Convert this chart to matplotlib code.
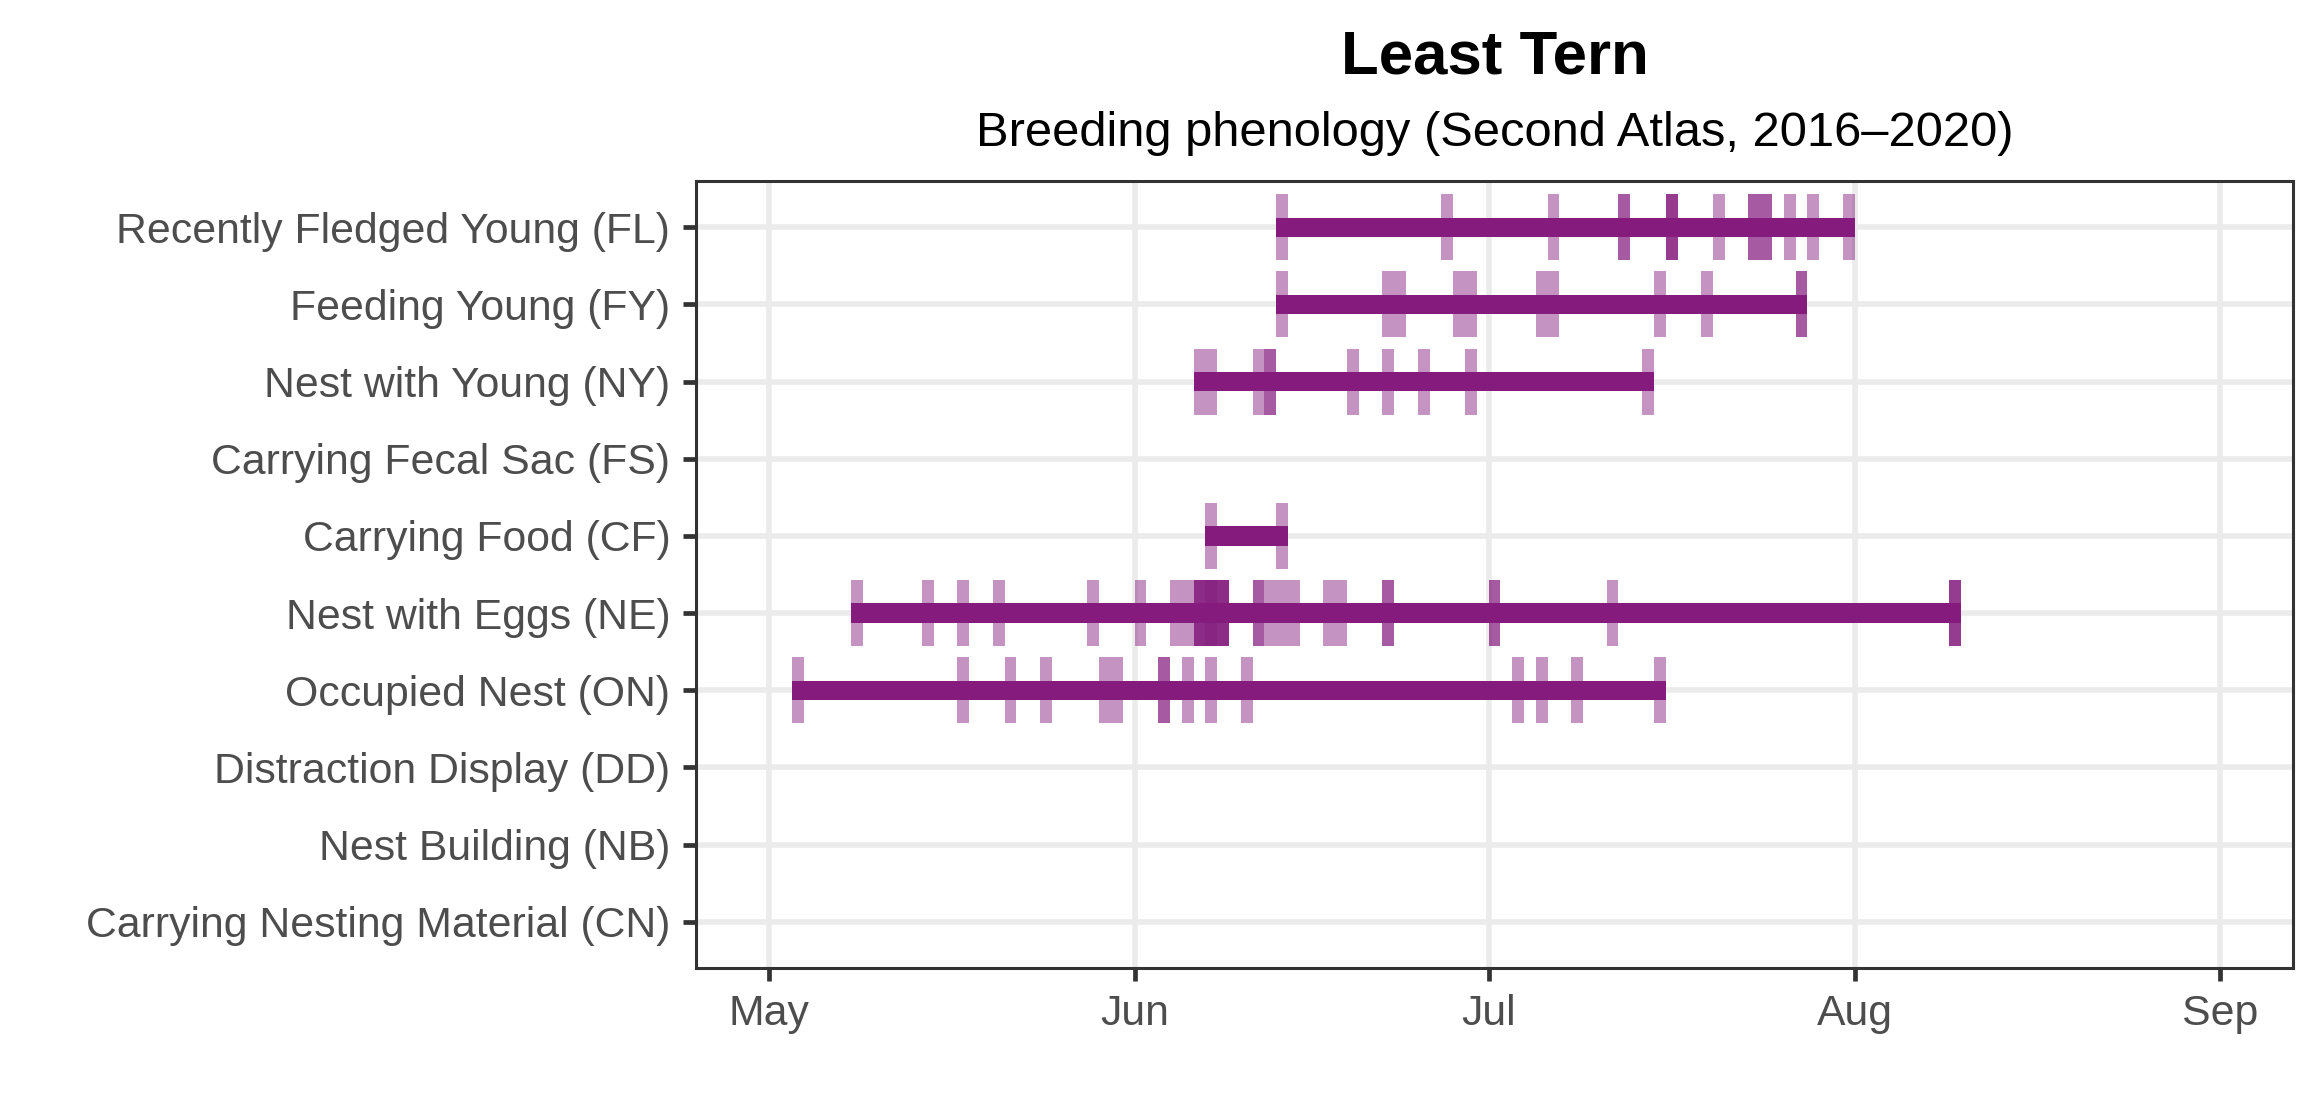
import datetime as dt
import matplotlib
matplotlib.use("Agg")
import matplotlib.pyplot as plt
import matplotlib.dates as mdates

plt.rcParams['font.family'] = ['Liberation Sans', 'DejaVu Sans']

YEAR = 2020

# Behaviour categories, bottom to top
categories = [
    "Carrying Nesting Material (CN)",
    "Nest Building (NB)",
    "Distraction Display (DD)",
    "Occupied Nest (ON)",
    "Nest with Eggs (NE)",
    "Carrying Food (CF)",
    "Carrying Fecal Sac (FS)",
    "Nest with Young (NY)",
    "Feeding Young (FY)",
    "Recently Fledged Young (FL)",
]

# Observation dates (month, day); repeated entries = multiple observations
obs_CN = []
obs_NB = []
obs_DD = []
obs_ON = [(5, 3), (5, 17), (5, 21), (5, 24), (5, 29), (5, 30), (6, 3), (6, 3),
          (6, 5), (6, 7), (6, 10), (7, 3), (7, 5), (7, 8), (7, 15)]
obs_NE = [(5, 8), (5, 14), (5, 17), (5, 20), (5, 28), (6, 1), (6, 4), (6, 5),
          (6, 6), (6, 6), (6, 6), (6, 6),
          (6, 7), (6, 7), (6, 7), (6, 7), (6, 7),
          (6, 8), (6, 8), (6, 8), (6, 8),
          (6, 11), (6, 11), (6, 12), (6, 13), (6, 14), (6, 17), (6, 18),
          (6, 22), (6, 22), (7, 1), (7, 1), (7, 11), (8, 9), (8, 9), (8, 9)]
obs_CF = [(6, 7), (6, 13)]
obs_FS = []
obs_NY = [(6, 6), (6, 7), (6, 11), (6, 12), (6, 12), (6, 19), (6, 22), (6, 25),
          (6, 29), (7, 14)]
obs_FY = [(6, 13), (6, 22), (6, 23), (6, 28), (6, 29), (7, 5), (7, 6), (7, 15),
          (7, 19), (7, 27), (7, 27)]
obs_FL = [(6, 13), (6, 27), (7, 6), (7, 12), (7, 12), (7, 16), (7, 16), (7, 16),
          (7, 20), (7, 23), (7, 23), (7, 24), (7, 24), (7, 26), (7, 28), (7, 31)]

observations = [obs_CN, obs_NB, obs_DD, obs_ON, obs_NE, obs_CF, obs_FS,
                obs_NY, obs_FY, obs_FL]

month_ticks = [(5, 1), (6, 1), (7, 1), (8, 1), (9, 1)]
month_labels = ["May", "Jun", "Jul", "Aug", "Sep"]

title = "Least Tern"
subtitle = "Breeding phenology (Second Atlas, 2016\u20132020)"

COLOR = "#841B7D"


def dnum(md):
    return mdates.date2num(dt.datetime(YEAR, md[0], md[1]))


fig = plt.figure(figsize=(23.2, 11.2), dpi=100)
ax = fig.add_axes([0.300, 0.1357, 0.9884 - 0.300, 0.8384 - 0.1357])

for i, obs in enumerate(observations):
    row = i + 1
    if not obs:
        continue
    xs = [dnum(o) for o in obs]
    ax.bar(xs, height=0.854, width=1.0, bottom=row - 0.427,
           align='edge', color=COLOR, alpha=0.47, linewidth=0, zorder=2)
    start = min(xs)
    end = max(xs) + 1.0
    ax.bar([start], height=0.25, width=end - start, bottom=row - 0.125,
           align='edge', color=COLOR, linewidth=0, zorder=3)

xt = [dnum(m) for m in month_ticks]
rng = xt[-1] - xt[0]
ax.set_xlim(xt[0] - 0.05 * rng, xt[-1] + 0.05 * rng)
ax.set_ylim(0.4, len(categories) + 0.6)
ax.set_xticks(xt)
ax.set_xticklabels(month_labels)
ax.set_yticks(range(1, len(categories) + 1))
ax.set_yticklabels(categories)

ax.set_axisbelow(True)
ax.grid(True, color="#EBEBEB", linewidth=4.0, zorder=0)
for s in ax.spines.values():
    s.set_color("#333333")
    s.set_linewidth(2.2)
    s.set_zorder(5)

ax.tick_params(axis='both', length=9.5, width=3.4, color="#333333",
               labelcolor="#4D4D4D", labelsize=30.8, pad=9)

cx = (0.300 + 0.9884) / 2
fig.text(cx, 1 - 74 / 1120, title, ha='center', va='baseline',
         fontsize=44.5, fontweight='bold', color='black')
fig.text(cx, 1 - 146 / 1120, subtitle, ha='center', va='baseline',
         fontsize=35.2, color='black')

fig.savefig("out.png", dpi=100, facecolor='white')
